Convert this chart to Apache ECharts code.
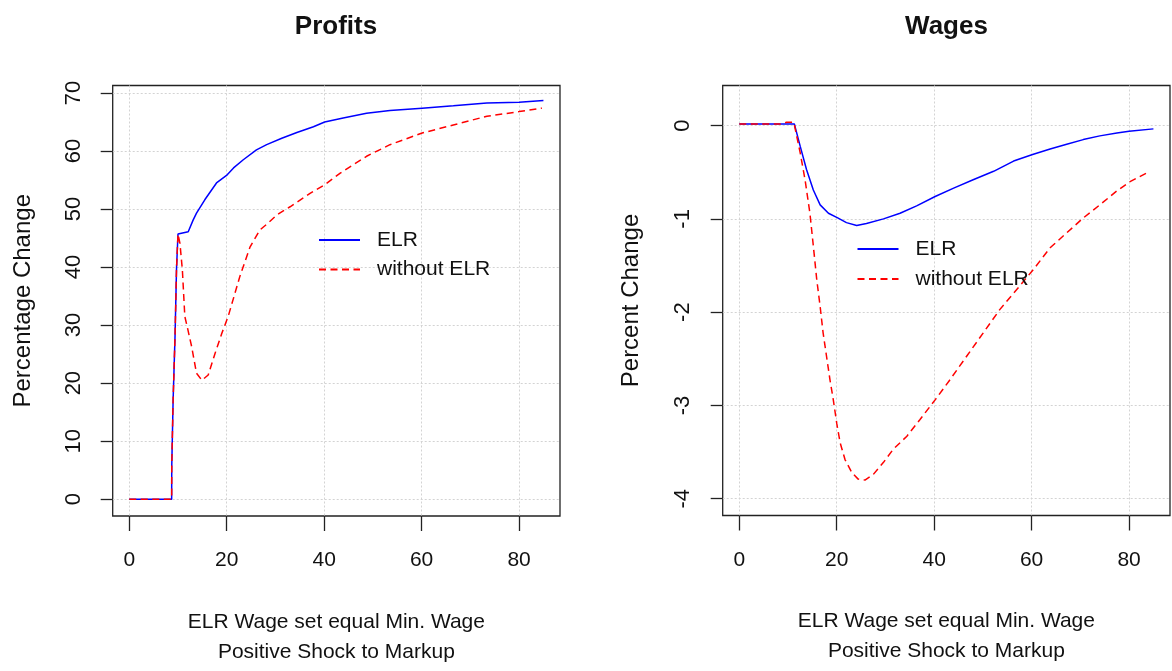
<!DOCTYPE html>
<html>
<head>
<meta charset="utf-8">
<script src="https://cdn.jsdelivr.net/npm/echarts@6/dist/echarts.min.js"></script>
<style>
html,body{margin:0;padding:0;background:#fff;}
#chart{width:1172px;height:671px;}
</style>
</head>
<body>
<div id="chart"></div>
<script>
// ---- Data ----
var xTicks = [0, 20, 40, 60, 80];
var profitTicks = [0, 10, 20, 30, 40, 50, 60, 70];
var wageTicks = [-4, -3, -2, -1, 0];
var legendNames = ['ELR', 'without ELR'];

// Profits, ELR
var profitsElrX = [0, 8.7, 8.72, 8.98, 9.0, 9.38, 9.4, 9.68, 9.7, 9.98, 10.0, 12.1, 13.1, 13.8, 15.5, 17.9, 20.1, 21.4, 23.4, 26.1, 28.2, 31.3, 34.4, 37.8, 40.1, 43.9, 48.7, 53.5, 60.1, 66.5, 73.4, 80, 85];
var profitsElrY = [0, 0, 5.6, 5.6, 17.1, 17.1, 28.3, 28.3, 39.8, 39.8, 45.7, 46.1, 48.1, 49.3, 51.6, 54.5, 55.9, 57.1, 58.5, 60.2, 61.1, 62.2, 63.2, 64.2, 65.0, 65.7, 66.5, 67.0, 67.4, 67.8, 68.3, 68.4, 68.7];

// Profits, without ELR
var profitsNoX = [0, 8.7, 8.72, 8.98, 9.0, 9.38, 9.4, 9.68, 9.7, 9.98, 10.0, 10.4, 10.9, 11.4, 11.9, 12.8, 13.8, 14.9, 16.2, 17.6, 19.0, 20.3, 22.7, 24.8, 26.8, 28.5, 30.3, 33.0, 37.1, 40.1, 43.3, 48.7, 53.5, 60.1, 66.5, 73.4, 80, 84.7];
var profitsNoY = [0, 0, 5.6, 5.6, 17.1, 17.1, 28.3, 28.3, 39.8, 39.8, 45.7, 44.1, 39.5, 31.5, 29.7, 26.3, 21.7, 20.5, 21.4, 25.1, 28.6, 31.5, 38.4, 43.5, 46.4, 47.6, 49.0, 50.4, 52.7, 54.2, 56.2, 59.1, 61.1, 63.1, 64.5, 66.0, 66.8, 67.4];

// Wages, ELR
var wagesElrX = [0, 11.3, 12.5, 13.8, 15.2, 16.6, 18.3, 20.2, 22.0, 24.1, 26.1, 29.6, 33.0, 36.4, 40.2, 44.0, 48.0, 52.2, 56.3, 60.2, 63.8, 67.2, 70.6, 74.0, 77.5, 80, 85];
var wagesElrY = [0.018, 0.018, -0.22, -0.47, -0.69, -0.85, -0.94, -0.99, -1.04, -1.07, -1.05, -1.0, -0.94, -0.86, -0.76, -0.67, -0.58, -0.49, -0.38, -0.31, -0.25, -0.2, -0.15, -0.11, -0.08, -0.06, -0.035];

// Wages, without ELR
var wagesNoX = [0, 8.5, 9.7, 11.2, 12.5, 13.5, 14.5, 15.2, 15.9, 16.6, 17.2, 17.9, 18.6, 19.3, 20.0, 20.7, 21.7, 23.1, 24.4, 25.8, 27.5, 29.6, 31.6, 34.4, 37.1, 40.2, 43.3, 46.7, 50.1, 53.5, 56.9, 60.4, 63.8, 67.2, 70.6, 74.0, 77.5, 80.2, 84.3];
var wagesNoY = [0.018, 0.018, 0.035, 0.035, -0.29, -0.58, -0.94, -1.29, -1.65, -1.94, -2.22, -2.47, -2.72, -2.94, -3.19, -3.4, -3.58, -3.72, -3.79, -3.8, -3.74, -3.61, -3.47, -3.33, -3.15, -2.94, -2.72, -2.47, -2.22, -1.97, -1.76, -1.54, -1.31, -1.15, -0.99, -0.85, -0.7, -0.6, -0.49];

function zip(xs, ys) { return xs.map(function (x, i) { return [x, ys[i]]; }); }

var FONT = "'Liberation Sans', Arial, Helvetica, sans-serif";
var INK = '#111';
var BOX = '#222';
var BLUE = '#0000ff';
var RED = '#ff0000';
var xName = 'ELR Wage set equal Min. Wage\nPositive Shock to Markup';

function xAxisDef(gridIndex) {
  return {
    type: 'value', gridIndex: gridIndex, min: -3.4, max: 88.4, position: 'bottom',
    axisLine: { show: false, onZero: false },
    axisTick: { show: true, length: 15, customValues: xTicks, lineStyle: { color: BOX, width: 1.3 } },
    axisLabel: { customValues: xTicks, margin: 34, fontSize: 21, lineHeight: 21, color: INK, fontFamily: FONT },
    splitLine: { show: true, lineStyle: { color: '#d3d3d3', type: [2, 2], width: 1 } },
    name: xName, nameLocation: 'middle', nameGap: 91,
    nameTextStyle: { fontSize: 21, lineHeight: 30, color: INK, fontFamily: FONT, verticalAlign: 'top' }
  };
}
function yAxisDef(gridIndex, min, max, ticks, name, margin, nameGap) {
  return {
    type: 'value', gridIndex: gridIndex, min: min, max: max, position: 'left',
    axisLine: { show: false, onZero: false },
    axisTick: { show: true, length: 12, customValues: ticks, lineStyle: { color: BOX, width: 1.3 } },
    axisLabel: { customValues: ticks, rotate: 90, margin: margin, fontSize: 22, lineHeight: 22, color: INK, fontFamily: FONT },
    splitLine: { show: true, lineStyle: { color: '#d3d3d3', type: [2, 2], width: 1 } },
    name: name, nameLocation: 'middle', nameGap: nameGap, nameRotate: 90,
    nameTextStyle: { fontSize: 24, lineHeight: 24, color: INK, fontFamily: FONT }
  };
}
function lineSeries(name, xi, yi, data, color, dashed) {
  return {
    name: name, type: 'line', xAxisIndex: xi, yAxisIndex: yi, data: data,
    symbol: 'none', smooth: false, animation: false,
    lineStyle: { color: color, width: 1.5, type: dashed ? [7, 4.5] : 'solid' },
    itemStyle: { color: color },
    emphasis: { disabled: true }
  };
}
function legendDef(left, top, gap) {
  return {
    orient: 'vertical', left: left, top: top, padding: 0,
    itemWidth: 41, itemHeight: 14, itemGap: gap, selectedMode: false,
    data: legendNames,
    itemStyle: { opacity: 0 },
    textStyle: { fontSize: 21, lineHeight: 21, color: INK, fontFamily: FONT, padding: [0, 0, 0, 12] }
  };
}

var chart = echarts.init(document.getElementById('chart'), null, { renderer: 'canvas' });
chart.setOption({
  animation: false,
  backgroundColor: '#ffffff',
  title: [
    { text: 'Profits', left: 336, top: 14, textAlign: 'center', padding: 0,
      textStyle: { fontSize: 26, fontWeight: 'bold', color: INK, fontFamily: FONT, lineHeight: 26 } },
    { text: 'Wages', left: 946.5, top: 14, textAlign: 'center', padding: 0,
      textStyle: { fontSize: 26, fontWeight: 'bold', color: INK, fontFamily: FONT, lineHeight: 26 } }
  ],
  legend: [
    legendDef(318, 229.5, 8.5),
    legendDef(856.5, 238.5, 9)
  ],
  grid: [
    { left: 112.7, top: 85.5, width: 447.3, height: 430.5, show: true, borderColor: BOX, borderWidth: 1.3, backgroundColor: 'transparent', containLabel: false, outerBoundsMode: 'none' },
    { left: 722.7, top: 85.5, width: 447.3, height: 430, show: true, borderColor: BOX, borderWidth: 1.3, backgroundColor: 'transparent', containLabel: false, outerBoundsMode: 'none' }
  ],
  xAxis: [xAxisDef(0), xAxisDef(1)],
  yAxis: [
    yAxisDef(0, -2.9, 71.3, profitTicks, 'Percentage Change', 28, 77),
    yAxisDef(1, -4.18, 0.43, wageTicks, 'Percent Change', 29, 79)
  ],
  series: [
    lineSeries('ELR', 0, 0, zip(profitsElrX, profitsElrY), BLUE, false),
    lineSeries('without ELR', 0, 0, zip(profitsNoX, profitsNoY), RED, true),
    lineSeries('ELR', 1, 1, zip(wagesElrX, wagesElrY), BLUE, false),
    lineSeries('without ELR', 1, 1, zip(wagesNoX, wagesNoY), RED, true)
  ]
});
</script>
</body>
</html>
